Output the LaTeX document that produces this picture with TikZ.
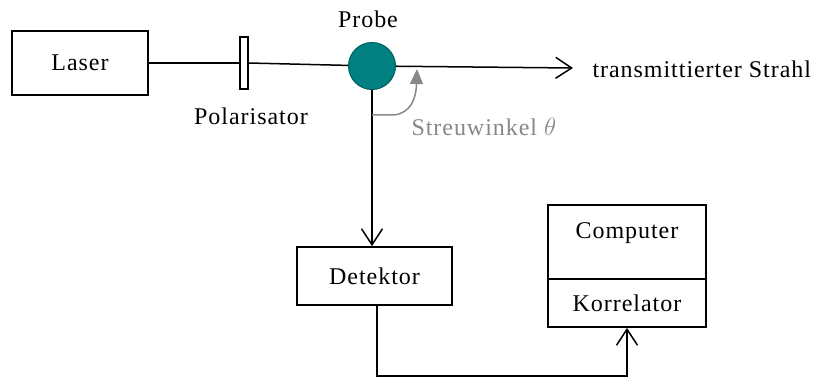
\documentclass[tikz,border=0pt]{standalone}
\usepackage{fontspec}
\setmainfont{Liberation Serif}[LetterSpace=4]
\usetikzlibrary{arrows.meta}
\definecolor{probeteal}{RGB}{0,128,128}
\definecolor{probeedge}{RGB}{0,96,96}
\definecolor{anglegray}{RGB}{136,136,136}

\begin{document}
\begin{tikzpicture}[x=1pt,y=-1pt,
    font=\fontsize{24}{28}\selectfont,
    box/.style={draw,line width=1.8pt,inner sep=0pt},
    beam/.style={line width=1.5pt},
    barb/.style={beam,-{Straight Barb[length=16pt,width=21pt,line width=1.5pt]}}]
    \useasboundingbox (0,0) rectangle (816,379);

    \node[box,minimum width=136pt,minimum height=64pt](laser) at (80,63){Laser};
    \node[box,line width=1.3pt,minimum width=8pt,minimum height=52pt](pol) at (244,63){};
    \node(poltext) at (251,116){Polarisator};
    \node[circle,fill=probeteal,draw=probeedge,line width=1pt,minimum size=47pt,inner sep=0pt](probe) at (372,66){};
    \node(probetext) at (368,19){Probe};
    \coordinate(out) at (573,68);
    \node[anchor=west](outtext) at (589,69){transmittierter Strahl};

    \node[box,minimum width=155pt,minimum height=58pt](det) at (374.5,276){Detektor};
    \node[box,minimum width=158pt,minimum height=74pt](comp) at (627,242){};
    \node(comptext) at (627,233){Computer};
    \node[box,minimum width=158pt,minimum height=48pt](korr) at (627,303){Korrelator};

    \draw[beam](laser.east)--(pol.west);
    \draw[beam](pol.east)--(probe);
    \draw[barb](probe)--(out);
    \draw[barb](probe.south)--(probe.south|-det.north);
    \draw[barb]([xshift=2.5pt]det.south)--++(0,70)-|(korr.south);

    % Streuwinkel
    \coordinate(a0) at (372,115);
    \coordinate(a1) at (417,69);
    \draw[anglegray,line width=1.5pt,-{Triangle[length=15pt,width=13pt]}](a0)--(394,115)..controls(410,113)and(416,100)..(a1);
    \node[anglegray,anchor=west](angtext) at (408,127){Streuwinkel $\theta$};
\end{tikzpicture}
\end{document}
